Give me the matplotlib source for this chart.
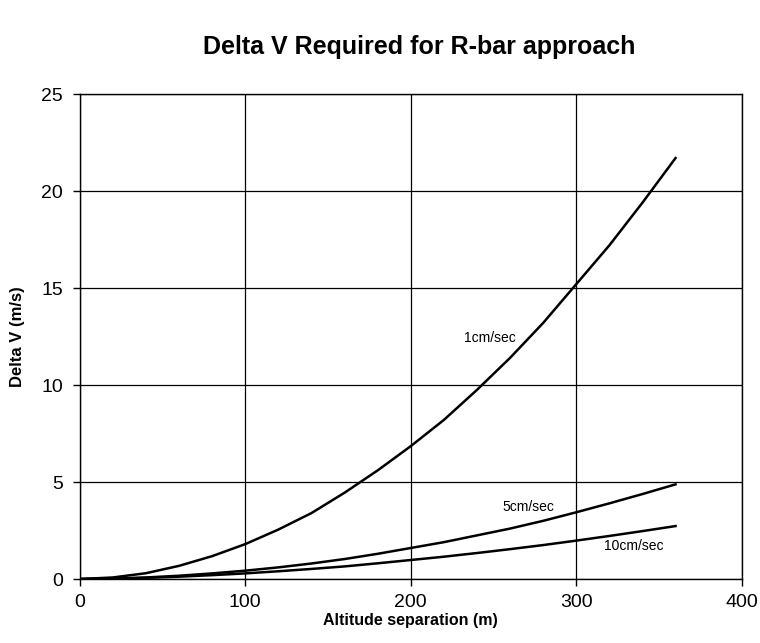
import matplotlib.pyplot as plt

# Données
altitude = [0, 20, 40, 60, 80, 100, 120, 140, 160, 180, 200, 220, 240, 260, 280, 300, 320, 340, 360]
dv_1cm = [0, 0.08, 0.3, 0.68, 1.18, 1.8, 2.55, 3.4, 4.45, 5.6, 6.85, 8.2, 9.75, 11.4, 13.2, 15.2, 17.2, 19.4, 21.7]
dv_5cm = [0, 0.02, 0.08, 0.17, 0.29, 0.43, 0.6, 0.8, 1.03, 1.3, 1.6, 1.9, 2.25, 2.6, 3.0, 3.44, 3.9, 4.38, 4.88]
dv_10cm = [0, 0.02, 0.06, 0.12, 0.2, 0.29, 0.4, 0.52, 0.65, 0.81, 0.98, 1.15, 1.34, 1.54, 1.75, 1.98, 2.22, 2.47, 2.73]

plt.rcParams['font.family'] = ['Liberation Sans', 'DejaVu Sans']

fig = plt.figure(figsize=(7.6, 6.43), dpi=100)
ax = fig.add_axes([0.105, 0.0995, 0.871, 0.7543])

ax.plot(altitude, dv_1cm, color="black", linewidth=1.8)
ax.plot(altitude, dv_5cm, color="black", linewidth=1.8)
ax.plot(altitude, dv_10cm, color="black", linewidth=1.8)

# Étiquettes des courbes
ax.text(248, 12.4, "1cm/sec", fontsize=10, ha="center", va="center")
ax.text(271, 3.7, "5cm/sec", fontsize=10, ha="center", va="center")
ax.text(335, 1.7, "10cm/sec", fontsize=10, ha="center", va="center")

ax.set_xlim(0, 400)
ax.set_ylim(0, 25)
ax.set_xticks([0, 100, 200, 300, 400])
ax.set_yticks([0, 5, 10, 15, 20, 25])
ax.tick_params(labelsize=14, direction="out", length=5, width=1, color="black")
ax.tick_params(axis="x", pad=6)
ax.tick_params(axis="y", pad=7)
ax.grid(True, color="black", linewidth=0.9)
ax.set_axisbelow(True)
for s in ax.spines.values():
    s.set_color("black")
    s.set_linewidth(1)

ax.set_xlabel("Altitude separation (m)", fontsize=11.5, fontweight="bold", labelpad=1)
ax.set_ylabel("Delta V (m/s)", fontsize=12, fontweight="bold", labelpad=12)

fig.suptitle("Delta V Required for R-bar approach", fontsize=18, fontweight="bold", x=0.551, y=0.945)

plt.savefig("out.png", dpi=100)
